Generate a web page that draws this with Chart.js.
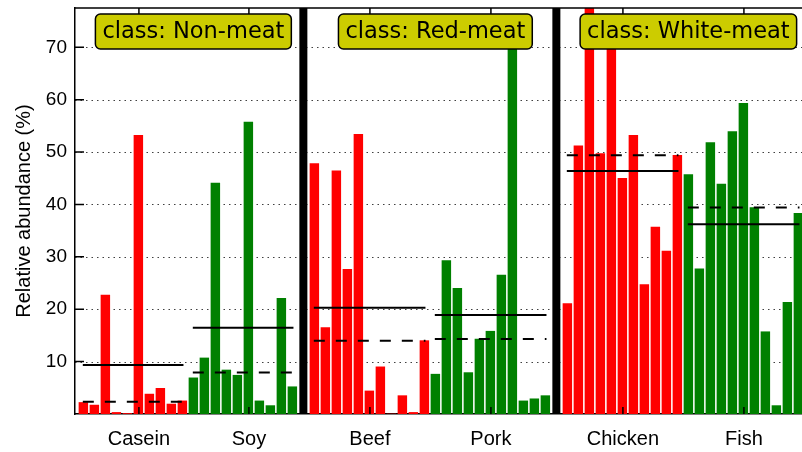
<!DOCTYPE html>
<html>
<head>
<meta charset="utf-8">
<script src="https://cdn.jsdelivr.net/npm/chart.js@4/dist/chart.umd.min.js"></script>
<style>
    html, body { margin: 0; padding: 0; background: #fff; }
</style>
</head>
<body>
<canvas id="abundanceChart" width="802" height="452"></canvas>
<script>
// relative abundance (%) per sample, left to right inside each group
const casein  = [2.2, 1.7, 22.7, 0.3, 0.1, 53.2, 3.8, 4.9, 1.9, 2.5];
const soy     = [6.9, 10.7, 44.1, 8.4, 7.4, 55.7, 2.5, 1.6, 22.1, 5.2];
const beef    = [47.8, 16.5, 46.4, 27.6, 53.4, 4.4, 9.0, 0, 3.5, 0.3, 14.0];
const pork    = [7.6, 29.3, 24.0, 7.9, 14.3, 15.8, 26.5, 73.6, 2.5, 2.9, 3.5];
const chicken = [21.1, 51.2, 78.5, 49.7, 70.8, 45.0, 53.2, 24.7, 35.7, 31.1, 49.4];
const fish    = [45.7, 27.7, 51.8, 43.9, 53.9, 59.3, 39.4, 15.7, 1.6, 21.3, 38.3];

const groupNames  = ['Casein', 'Soy', 'Beef', 'Pork', 'Chicken', 'Fish'];
const groupValues = [casein, soy, beef, pork, chicken, fish];
const groupColors = ['#ff0000', '#008000', '#ff0000', '#008000', '#ff0000', '#008000'];
const classNames  = ['class: Non-meat', 'class: Red-meat', 'class: White-meat'];
const yTicks      = [10, 20, 30, 40, 50, 60, 70];

// slot index of the first bar of each group (one empty slot between classes)
const starts = [];
let pos = 0;
groupValues.forEach((vals, i) => {
    starts.push(pos);
    pos += vals.length;
    if (i % 2 === 1) pos += 1;
});

function mean(a) {
    return a.reduce((s, v) => s + v, 0) / a.length;
}

function median(a) {
    const s = [...a].sort((p, q) => p - q);
    const m = Math.floor(s.length / 2);
    return s.length % 2 ? s[m] : (s[m - 1] + s[m]) / 2;
}

const datasets = [];

groupValues.forEach((vals, i) => {
    datasets.push({
        type: 'bar',
        label: groupNames[i],
        data: vals.map((v, j) => ({ x: starts[i] + j + 0.4, y: v })),
        backgroundColor: groupColors[i],
        borderWidth: 0,
        barThickness: 8.8,
        grouped: false,
        order: 2
    });
});

// mean (solid) and median (dashed) of each group
groupValues.forEach((vals, i) => {
    const x0 = starts[i] + 0.35;
    const x1 = starts[i] + vals.length - 0.5;
    const m = mean(vals);
    const md = median(vals);
    datasets.push({
        type: 'line',
        data: [{ x: x0, y: m }, { x: x1, y: m }],
        borderColor: '#000',
        borderWidth: 2,
        pointRadius: 0,
        order: 1
    });
    datasets.push({
        type: 'line',
        data: [{ x: x0, y: md }, { x: x1, y: md }],
        borderColor: '#000',
        borderWidth: 2,
        borderDash: [11, 11],
        pointRadius: 0,
        order: 1
    });
});

const decor = {
    id: 'decor',
    beforeDatasetsDraw(chart) {
        const { ctx, chartArea: a, scales: { y } } = chart;
        ctx.save();
        ctx.strokeStyle = 'rgba(0,0,0,0.75)';
        ctx.lineWidth = 1.2;
        ctx.setLineDash([1.5, 4]);
        yTicks.forEach(v => {
            const py = Math.round(y.getPixelForValue(v)) + 0.5;
            ctx.beginPath();
            ctx.moveTo(a.left, py);
            ctx.lineTo(a.right, py);
            ctx.stroke();
        });
        ctx.restore();
    },
    afterDatasetsDraw(chart) {
        const { ctx, chartArea: a, scales: { x, y } } = chart;
        ctx.save();

        // thick separators between the classes
        ctx.fillStyle = '#000';
        [starts[2] - 1, starts[4] - 1].forEach(s => {
            const px = x.getPixelForValue(s + 0.4);
            ctx.fillRect(px - 4, a.top, 8, a.bottom - a.top);
        });

        // top frame and inward ticks
        ctx.strokeStyle = '#000';
        ctx.lineWidth = 1.5;
        ctx.beginPath();
        ctx.moveTo(a.left, a.top);
        ctx.lineTo(a.right, a.top);
        yTicks.forEach(v => {
            const py = y.getPixelForValue(v);
            ctx.moveTo(a.left, py);
            ctx.lineTo(a.left + 9, py);
        });
        x.ticks.forEach(t => {
            const px = x.getPixelForValue(t.value);
            ctx.moveTo(px, a.top);
            ctx.lineTo(px, a.top + 7);
            ctx.moveTo(px, a.bottom);
            ctx.lineTo(px, a.bottom - 7);
        });
        ctx.stroke();

        // class boxes
        ctx.font = '22.5px "DejaVu Sans"';
        ctx.textAlign = 'center';
        ctx.textBaseline = 'middle';
        classNames.forEach((name, k) => {
            const cx = x.getPixelForValue(starts[k * 2 + 1] + 0.4);
            const w = ctx.measureText(name).width + 14;
            const h = 35;
            const top = 14;
            ctx.beginPath();
            ctx.roundRect(cx - w / 2, top, w, h, 5);
            ctx.fillStyle = '#cccc00';
            ctx.fill();
            ctx.lineWidth = 1.5;
            ctx.strokeStyle = '#000';
            ctx.stroke();
            ctx.fillStyle = '#000';
            ctx.fillText(name, cx, top + h / 2 + 1);
        });

        ctx.restore();
    }
};

const abundanceCtx = document.getElementById('abundanceChart').getContext('2d');

new Chart(abundanceCtx, {
    type: 'bar',
    data: { datasets: datasets },
    options: {
        responsive: false,
        animation: false,
        layout: { padding: { top: 8, right: 0, bottom: 0, left: 0 } },
        plugins: {
            legend: { display: false },
            tooltip: { enabled: false }
        },
        scales: {
            x: {
                type: 'linear',
                offset: false,
                min: -0.36,
                max: 65.73,
                grid: { display: false, drawTicks: false, offset: false },
                border: { display: true, color: '#000', width: 1.5 },
                afterBuildTicks: s => {
                    s.ticks = starts.map(st => ({ value: st + 5.45 }));
                },
                afterFit: s => {
                    s.height = 38;
                    s.paddingLeft = 0;
                    s.paddingRight = 0;
                },
                ticks: {
                    autoSkip: false,
                    maxRotation: 0,
                    padding: 13,
                    color: '#000',
                    font: { family: 'Liberation Sans', size: 20 },
                    callback: (v, i) => groupNames[i]
                }
            },
            y: {
                min: 0,
                max: 77.5,
                grid: { display: false, drawTicks: false },
                border: { display: true, color: '#000', width: 1.5 },
                afterBuildTicks: s => {
                    s.ticks = yTicks.map(v => ({ value: v }));
                },
                afterFit: s => {
                    s.width = 75;
                    s.paddingTop = 0;
                    s.paddingBottom = 0;
                },
                ticks: {
                    padding: 8,
                    color: '#000',
                    font: { family: 'Liberation Sans', size: 19 }
                },
                title: {
                    display: true,
                    text: 'Relative abundance (%)',
                    color: '#000',
                    font: { family: 'Liberation Sans', size: 20 },
                    padding: { top: 12, bottom: 0 }
                }
            }
        }
    },
    plugins: [decor]
});
</script>
</body>
</html>
